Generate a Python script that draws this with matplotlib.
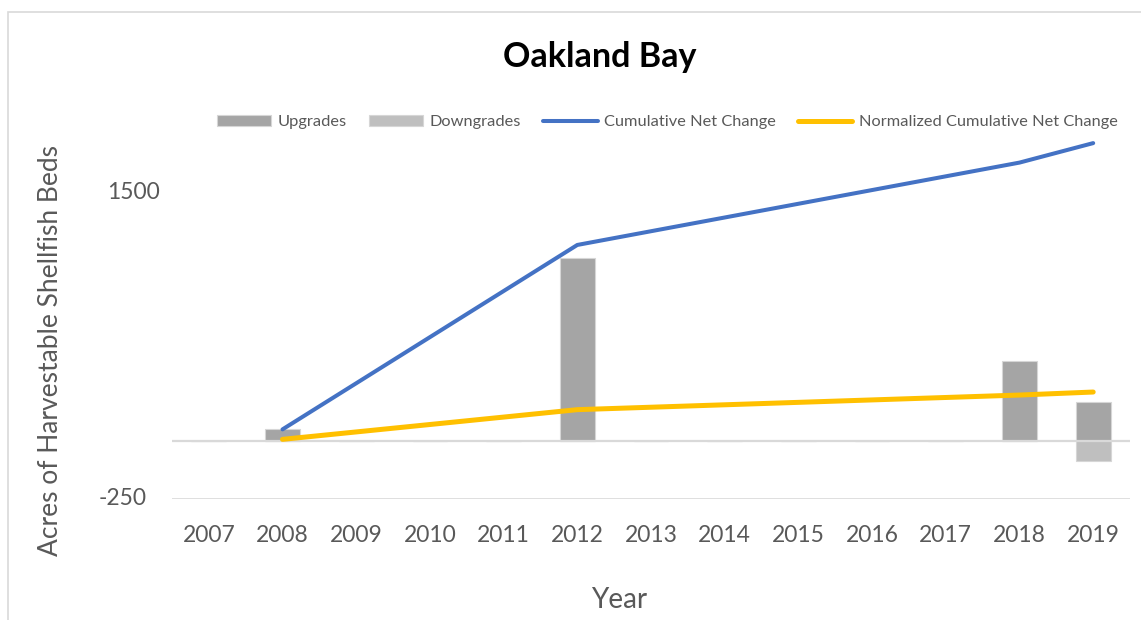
import matplotlib
matplotlib.use("Agg")
import matplotlib.pyplot as plt
import numpy as np
from matplotlib.patches import Rectangle

plt.rcParams['font.family'] = ['Lato', 'DejaVu Sans']

years = [2007, 2008, 2009, 2010, 2011, 2012, 2013, 2014, 2015, 2016, 2017, 2018, 2019]
upgrades = [0, 50, 0, 0, 0, 789, 0, 0, 0, 0, 0, 345, 168]
downgrades = [0, 0, 0, 0, 0, 0, 0, 0, 0, 0, 0, 0, -86]
line_years = [2008, 2012, 2018, 2019]
cumulative = [50, 845, 1200, 1284]
normalized = [7, 135, 198, 211]

fig = plt.figure(figsize=(11.41, 6.2), dpi=100)
ax = fig.add_axes([0.1507, 0.1952, 0.8397, 0.6548])

x = np.arange(len(years))
idx = [years.index(y) for y in line_years]

b1 = ax.bar(x, upgrades, width=0.47, color='#A5A5A5', edgecolor='#D6D6D6', linewidth=0.8, label='Upgrades', zorder=2)
b2 = ax.bar(x, downgrades, width=0.47, color='#BFBFBF', edgecolor='#D6D6D6', linewidth=0.8, label='Downgrades', zorder=2)
ax.axhline(0, color='#D9D9D9', linewidth=1.6, zorder=3)
ax.axhline(-250, color='#D9D9D9', linewidth=1.2, zorder=1)
l1, = ax.plot(idx, cumulative, color='#4472C4', linewidth=2.9, solid_capstyle='round', label='Cumulative Net Change', zorder=4)
l2, = ax.plot(idx, normalized, color='#FFC000', linewidth=3.6, solid_capstyle='round', label='Normalized Cumulative Net Change', zorder=5)

ax.set_xlim(-0.5, len(years) - 0.5)
ax.set_ylim(-250, 1500)
ax.set_xticks(x)
ax.set_xticklabels([str(y) for y in years], fontsize=16.5, color='#595959')
ax.tick_params(axis='x', length=0, pad=19)
ax.set_yticks([])
ax.text(-0.0125, 1073, '1500', transform=ax.get_yaxis_transform(), ha='right', va='center',
        fontsize=16.5, color='#595959')
ax.text(-0.026, -250, '-250', transform=ax.get_yaxis_transform(), ha='right', va='center',
        fontsize=16.5, color='#595959')
for s in ax.spines.values():
    s.set_visible(False)

fig.text(0.543, 0.032, 'Year', ha='center', va='center', fontsize=20, color='#595959')
fig.text(0.044, 0.435, 'Acres of Harvestable Shellfish Beds', rotation=90, ha='center', va='center',
         fontsize=19, color='#595959')
fig.text(0.526, 0.908, 'Oakland Bay', ha='center', va='center', fontsize=24.5, fontweight='bold', color='black')

ax.legend(handles=[b1, b2, l1, l2], loc='center', bbox_to_anchor=(0.585, 0.803), bbox_transform=fig.transFigure,
          ncol=4, frameon=False, fontsize=11.8, handlelength=3.3, handletextpad=0.4, columnspacing=1.35,
          labelcolor='#595959')

fig.add_artist(Rectangle((0.007, -0.01), 1.0, 0.99, transform=fig.transFigure, fill=False,
                         edgecolor='#D9D9D9', linewidth=1.2))

fig.savefig('out.png', dpi=100)
